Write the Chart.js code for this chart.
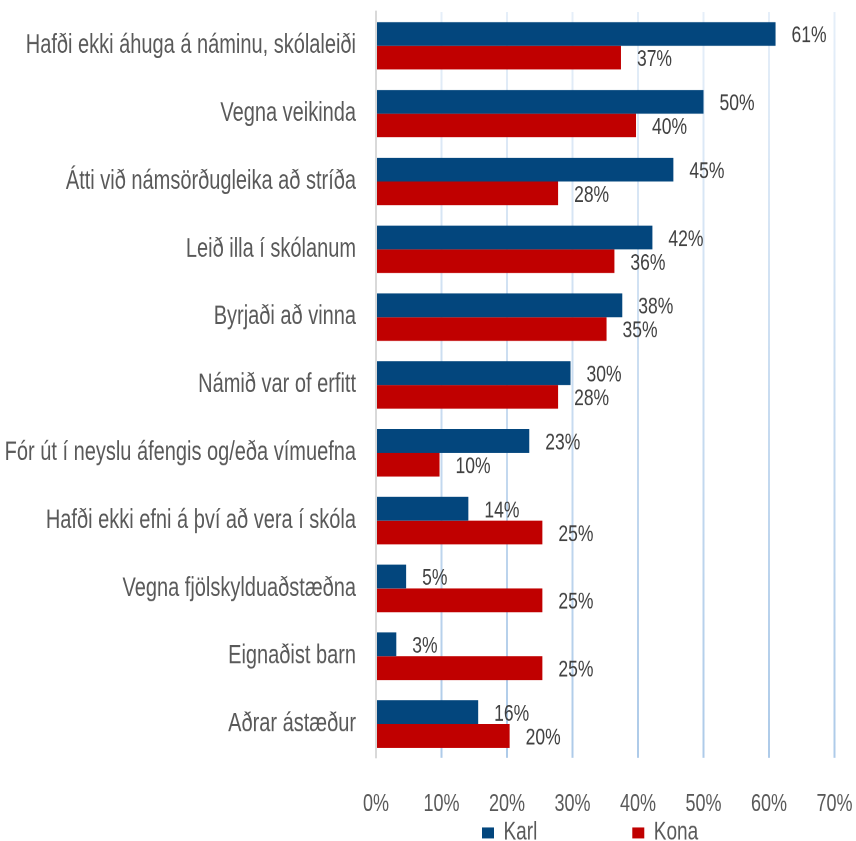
<!DOCTYPE html>
<html><head><meta charset="utf-8">
<script src="https://cdn.jsdelivr.net/npm/chart.js@4"></script>
<style>
html,body{margin:0;padding:0;background:#fff;overflow:hidden;}
#wrap{position:absolute;left:0;top:0;width:856px;height:637px;transform:scale(1,1.32);transform-origin:0 0;}
</style></head><body>
<div id="wrap"><canvas id="c" width="856" height="637"></canvas></div>
<script>
const categories = [
  'Hafði ekki áhuga á náminu, skólaleiði',
  'Vegna veikinda',
  'Átti við námsörðugleika að stríða',
  'Leið illa í skólanum',
  'Byrjaði að vinna',
  'Námið var of erfitt',
  'Fór út í neyslu áfengis og/eða vímuefna',
  'Hafði ekki efni á því að vera í skóla',
  'Vegna fjölskylduaðstæðna',
  'Eignaðist barn',
  'Aðrar ástæður'
];
const seriesNames = ['Karl', 'Kona'];
const karl = [61.0, 50.0, 45.4, 42.2, 37.6, 29.7, 23.4, 14.1, 4.6, 3.1, 15.6];
const kona = [37.4, 39.7, 27.8, 36.4, 35.2, 27.8, 9.7, 25.4, 25.4, 25.4, 20.4];
const xTickValues = [0, 10, 20, 30, 40, 50, 60, 70];

const FONT = "'Liberation Sans', Arial, sans-serif";

const valueLabels = {
  id: 'valueLabels',
  afterDatasetsDraw(chart) {
    const ctx = chart.ctx;
    ctx.save();
    ctx.font = '17.5px ' + FONT;
    ctx.fillStyle = '#404040';
    ctx.textAlign = 'left';
    ctx.textBaseline = 'middle';
    chart.data.datasets.forEach((ds, di) => {
      const meta = chart.getDatasetMeta(di);
      meta.data.forEach((bar, i) => {
        ctx.fillText(Math.round(ds.data[i]) + '%', bar.x + 16, bar.y + 1.6);
      });
    });
    ctx.restore();
  }
};

const legendPlace = {
  id: 'legendPlace',
  afterLayout(chart) {
    const lg = chart.legend;
    if (!lg) return;
    const p = lg.options.labels.padding;
    lg.left = 482 - p;
    lg.right = lg.left + 420;
    lg.top = 621.5 - p;
  }
};

new Chart(document.getElementById('c'), {
  type: 'bar',
  data: {
    labels: categories,
    datasets: [
      { label: seriesNames[0], data: karl, backgroundColor: '#03467d', borderWidth: 0,
        categoryPercentage: 0.7, barPercentage: 1.0 },
      { label: seriesNames[1], data: kona, backgroundColor: '#c00000', borderWidth: 0,
        categoryPercentage: 0.7, barPercentage: 1.0 }
    ]
  },
  options: {
    indexAxis: 'y',
    responsive: false,
    devicePixelRatio: 2,
    animation: false,
    layout: { padding: { top: 9, right: 21.5, bottom: 0, left: 0 } },
    plugins: {
      legend: {
        position: 'bottom',
        align: 'start',
        maxHeight: 1,
        labels: { boxWidth: 12, boxHeight: 8.4, padding: 95, color: '#595959',
                  font: { family: FONT, size: 19 } }
      },
      tooltip: { enabled: false }
    },
    scales: {
      x: {
        min: 0, max: 70,
        afterBuildTicks(scale) { scale.ticks = xTickValues.map(v => ({ value: v })); },
        afterFit(scale) { scale.height = 61.8; scale.paddingLeft = 0; scale.paddingRight = 0; },
        ticks: { color: '#595959', padding: 24.5, font: { family: FONT, size: 18 },
                 callback: v => v + '%' },
        grid: {
          drawTicks: false,
          lineWidth: 2,
          color(c) {
            if (c.index === 0) return 'rgba(0,0,0,0)';
            const area = c.chart.chartArea;
            if (!area) return '#c6dbef';
            const g = c.chart.ctx.createLinearGradient(0, area.top, 0, area.bottom);
            g.addColorStop(0, '#e6eff9');
            g.addColorStop(1, '#aecbe9');
            return g;
          }
        },
        border: { display: false }
      },
      y: {
        afterFit(scale) { scale.width = 376; scale.paddingTop = 0; scale.paddingBottom = 0; },
        ticks: { color: '#595959', padding: 20, font: { family: FONT, size: 20 } },
        grid: { display: false, drawTicks: false },
        border: { display: true, color: '#d9d9d9', width: 2 }
      }
    }
  },
  plugins: [valueLabels, legendPlace]
});
</script>
</body></html>
